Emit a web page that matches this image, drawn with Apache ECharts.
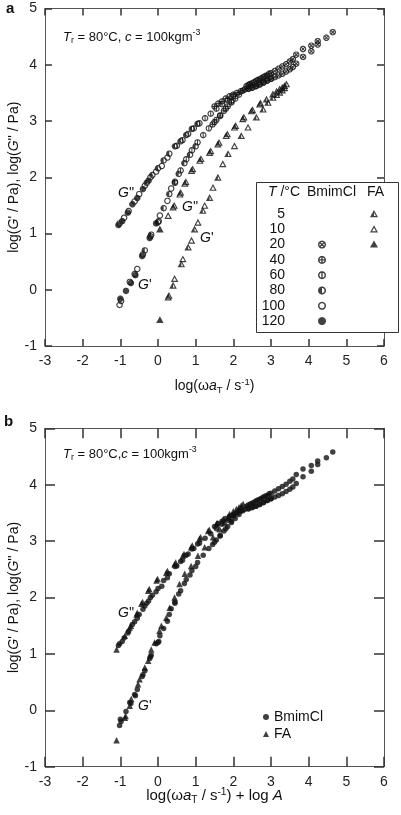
<!DOCTYPE html>
<html><head><meta charset="utf-8">
<script src="https://cdn.jsdelivr.net/npm/echarts@6/dist/echarts.min.js"></script>
<style>html,body{margin:0;padding:0;background:#fff}#c{width:401px;height:815px}</style>
</head><body><div id="c"></div>
<script>
// ---------- DATA ----------
// BmimCl, shifted curves [log(ω aT / s^-1), log(G / Pa)]
const bm120_Gp  = [[-1.00,-0.16],[-0.85,-0.02],[-0.72,0.12],[-0.60,0.26],[-0.42,0.60],[-0.22,0.92],[-0.05,1.18]];
const bm120_Gpp = [[-1.05,1.15],[-0.95,1.22],[-0.80,1.37],[-0.68,1.52],[-0.55,1.63],[-0.40,1.79],[-0.25,1.94]];
const bm100_Gp  = [[-1.02,-0.27],[-0.98,-0.20],[-0.75,0.14],[-0.62,0.28],[-0.55,0.37],[-0.40,0.63],[-0.20,0.95],[0.02,1.22],[0.05,1.32],[0.25,1.58],[0.35,1.80]];
const bm100_Gpp = [[-1.02,1.18],[-0.90,1.28],[-0.78,1.40],[-0.62,1.57],[-0.50,1.70],[-0.35,1.85],[-0.20,2.00],[-0.05,2.10],[0.10,2.20],[0.25,2.35]];
const bm80_Gp   = [[-0.35,0.70],[-0.18,0.98],[0.00,1.20],[0.15,1.45],[0.30,1.70],[0.45,1.92],[0.55,2.06],[0.70,2.25],[0.85,2.40],[1.00,2.55]];
const bm80_Gpp  = [[-0.30,1.90],[-0.15,2.04],[0.00,2.16],[0.15,2.30],[0.30,2.42],[0.45,2.55],[0.60,2.64],[0.75,2.75],[0.90,2.86],[1.05,2.95]];
const bm60_Gp   = [[0.45,1.90],[0.60,2.12],[0.75,2.32],[0.90,2.48],[1.05,2.62],[1.20,2.75],[1.35,2.87],[1.50,2.98],[1.65,3.10],[1.80,3.22],[1.95,3.35]];
const bm60_Gpp  = [[0.50,2.56],[0.65,2.66],[0.80,2.77],[0.95,2.87],[1.10,2.96],[1.25,3.05],[1.40,3.13],[1.55,3.22],[1.70,3.30],[1.85,3.37],[2.00,3.44]];
const bm40_Gp   = [[1.45,2.94],[1.55,3.02],[1.65,3.09],[1.75,3.18],[1.85,3.26],[1.95,3.33],[2.05,3.40],[2.15,3.47],[2.25,3.54],[2.35,3.62],[2.45,3.66],[2.55,3.69],[2.65,3.73],[2.75,3.76],[2.85,3.80],[2.95,3.84]];
const bm40_Gpp  = [[1.50,3.26],[1.60,3.31],[1.70,3.35],[1.80,3.40],[1.90,3.44],[2.00,3.47],[2.10,3.50],[2.20,3.53],[2.30,3.56],[2.40,3.58],[2.50,3.60],[2.60,3.62],[2.70,3.65],[2.80,3.68],[2.90,3.72],[3.00,3.75]];
const bm20_Gp   = [[2.40,3.64],[2.50,3.67],[2.60,3.71],[2.70,3.74],[2.80,3.78],[2.90,3.81],[3.00,3.85],[3.10,3.89],[3.20,3.93],[3.30,3.97],[3.40,4.01],[3.50,4.06],[3.58,4.10],[3.67,4.18],[3.85,4.28],[4.07,4.34],[4.24,4.42],[4.47,4.48],[4.64,4.58]];
const bm20_Gpp  = [[2.40,3.57],[2.50,3.59],[2.60,3.62],[2.70,3.65],[2.80,3.69],[2.90,3.72],[3.00,3.75],[3.10,3.78],[3.20,3.81],[3.30,3.84],[3.40,3.88],[3.50,3.92],[3.58,3.96],[3.67,4.02],[3.85,4.14],[4.07,4.24],[4.24,4.36]];
// FA, panel a (unshifted by log A)
const fa20_Gp   = [[0.05,-0.53]];
const fa20_Gpp  = [[0.05,1.08]];
const fa10_Gp   = [[0.27,-0.13],[0.44,0.20],[0.66,0.55],[0.89,0.88],[1.06,1.20],[1.24,1.50],[1.46,1.82],[1.72,2.24],[2.03,2.56],[2.39,2.89]];
const fa10_Gpp  = [[0.27,1.32],[0.40,1.47],[0.58,1.70],[0.71,1.89],[0.89,2.12],[1.11,2.30],[1.37,2.44],[1.59,2.59],[1.81,2.74],[2.03,2.89],[2.25,3.04],[2.48,3.18],[2.70,3.30]];
const fa5_Gp    = [[0.29,-0.10],[0.40,0.08],[0.62,0.46],[0.80,0.76],[0.97,1.08],[1.19,1.41],[1.37,1.64],[1.59,2.00],[1.86,2.42],[2.21,2.74],[2.61,3.07],[2.79,3.21],[2.92,3.33],[3.05,3.42],[3.15,3.47],[3.23,3.51],[3.30,3.55],[3.36,3.59]];
const fa5_Gpp   = [[0.43,1.50],[0.60,1.73],[0.74,1.92],[0.92,2.15],[1.14,2.33],[1.40,2.47],[1.62,2.62],[1.84,2.77],[2.06,2.92],[2.28,3.07],[2.51,3.20],[2.72,3.32],[2.88,3.39],[3.05,3.48],[3.15,3.53],[3.23,3.57],[3.30,3.60],[3.36,3.63],[3.41,3.66]];
// horizontal shift of FA in panel b
const logA = -1.15;
// axis ticks
const xTicks = {min:-3, max:6, interval:1};
const yTicks = {min:-1, max:5, interval:1};
const bmTemps = ['20','40','60','80','100','120'];
const faTemps = ['5','10','20'];

// ---------- STYLE HELPERS ----------
const FONT = "'Liberation Sans', Arial, Helvetica, sans-serif";
const INK = '#111';
function poly(pts){ return 'M' + pts.map(p => p[0].toFixed(2) + ' ' + p[1].toFixed(2)).join(' L') + ' Z'; }
function circ(cx, cy, r, rev){ const n = 28, pts = []; for (let k = 0; k < n; k++){ const a = 2*Math.PI*k/n; pts.push([cx + r*Math.cos(a), cy + r*Math.sin(a)]); } if (rev) pts.reverse(); return poly(pts); }
function halfL(cx, cy, r){ const n = 14, pts = []; for (let k = 0; k <= n; k++){ const a = Math.PI/2 + Math.PI*k/n; pts.push([cx + r*Math.cos(a), cy + r*Math.sin(a)]); } return poly(pts); }
const ring = circ(10,10,10,false) + ' ' + circ(10,10,6.4,true);
const barV = poly([[8.3,1],[11.7,1],[11.7,19],[8.3,19]]);
const barH = poly([[1,8.3],[19,8.3],[19,11.7],[1,11.7]]);
const diag1 = poly([[4.7,2.3],[17.7,15.3],[15.3,17.7],[2.3,4.7]]);
const diag2 = poly([[15.3,2.3],[17.7,4.7],[4.7,17.7],[2.3,15.3]]);
const SYM_B = {
  '20':  'path://' + ring + ' ' + diag1 + ' ' + diag2,
  '40':  'path://' + ring + ' ' + barV + ' ' + barH,
  '60':  'path://' + ring + ' ' + barV,
  '80':  'path://' + ring + ' ' + halfL(10,10,6.4),
  '100': 'path://' + ring,
  '120': 'path://' + circ(10,10,10,false)
};
const triOut = poly([[10,0],[20,18],[0,18]]);
const triIn = poly([[10,6.18],[5.1,15.0],[14.9,15.0]]);
const SYM_F = {
  '5':  'path://' + triOut + ' ' + triIn + ' ' + poly([[10,6.18],[10,15.0],[5.1,15.0]]),
  '10': 'path://' + triOut + ' ' + triIn,
  '20': 'path://' + triOut
};
const bmData = {'20':[bm20_Gp,bm20_Gpp],'40':[bm40_Gp,bm40_Gpp],'60':[bm60_Gp,bm60_Gpp],'80':[bm80_Gp,bm80_Gpp],'100':[bm100_Gp,bm100_Gpp],'120':[bm120_Gp,bm120_Gpp]};
const faData = {'5':[fa5_Gp,fa5_Gpp],'10':[fa10_Gp,fa10_Gpp],'20':[fa20_Gp,fa20_Gpp]};

function mkRich(fs){
  return {
    i:   {fontStyle:'italic', fontSize:fs, fontFamily:FONT, color:INK},
    sub: {fontSize:fs*0.68, lineHeight:fs*0.85, verticalAlign:'bottom', fontFamily:FONT, color:INK},
    sup: {fontSize:fs*0.68, lineHeight:fs*0.85, verticalAlign:'top', fontFamily:FONT, color:INK}
  };
}

const series = [];
bmTemps.forEach(t => {
  series.push({type:'scatter', name:'B'+t, xAxisIndex:0, yAxisIndex:0, data: bmData[t][0].concat(bmData[t][1]),
    symbol: SYM_B[t], symbolSize: 6.5, itemStyle:{color:INK}, silent:true, z:3});
});
faTemps.forEach(t => {
  series.push({type:'scatter', name:'F'+t, xAxisIndex:0, yAxisIndex:0, data: faData[t][0].concat(faData[t][1]),
    symbol: SYM_F[t], symbolSize: [7.5,6.8], itemStyle:{color:INK}, silent:true, z:3});
});
let bmAll = [];
bmTemps.forEach(t => { bmAll = bmAll.concat(bmData[t][0], bmData[t][1]); });
let faAll = [];
faTemps.forEach(t => { faAll = faAll.concat(faData[t][0], faData[t][1]); });
series.push({type:'scatter', name:'BmimCl', xAxisIndex:2, yAxisIndex:2, data: bmAll, symbol:'circle', symbolSize:5.5, itemStyle:{color:INK}, silent:true});
series.push({type:'scatter', name:'FA', xAxisIndex:2, yAxisIndex:2, data: faAll.map(p => [p[0] + logA, p[1]]), symbol:'triangle', symbolSize:6.5, itemStyle:{color:INK}, silent:true});

function tick(len){ return {show:true, inside:true, length:len, lineStyle:{color:'#333', width:1.5}}; }
function xAx(grid, pos, name, fs, gap){
  return Object.assign({type:'value', gridIndex:grid, position:pos, min:xTicks.min, max:xTicks.max, interval:xTicks.interval,
    axisLine:{onZero:false},
    axisTick:tick(grid === 0 ? 7 : 10),
    axisLabel:{show: pos==='bottom', fontSize:14, color:'#222', fontFamily:FONT, margin:8},
    splitLine:{show:false}},
    name ? {name:name, nameLocation:'middle', nameGap:gap, nameMoveOverlap:false, nameTextStyle:{fontSize:fs, lineHeight:18, fontFamily:FONT, color:INK, rich:mkRich(fs)}} : {});
}
function yAx(grid, pos, name){
  return Object.assign({type:'value', gridIndex:grid, position:pos, min:yTicks.min, max:yTicks.max, interval:yTicks.interval,
    axisLine:{show:true, onZero:false},
    axisTick:tick(grid === 0 ? 7 : 10),
    axisLabel:{show: pos==='left', fontSize:14, color:'#222', fontFamily:FONT, margin:8},
    splitLine:{show:false}},
    name ? {name:name, nameLocation:'middle', nameGap:22, nameMoveOverlap:false, nameRotate:90, nameTextStyle:{fontSize:14, lineHeight:18, fontFamily:FONT, color:INK, rich:mkRich(14)}} : {});
}
const yName = "log({i|G}' / Pa), log({i|G}'' / Pa)";

function txt(x, y, text, opt){
  return {type:'text', x:x, y:y, z:10, style:Object.assign({text:text, fontSize:14, fontFamily:FONT, fill:INK, verticalAlign:'middle', align:'left'}, opt||{})};
}
const legRows = [214, 229.3, 244.6, 259.9, 275.2, 290.5, 305.8, 321.1];
const legNums = ['5','10','20','40','60','80','100','120'];

const graphics = [
  txt(6, 8.5, 'a', {fontSize:15, fontWeight:'bold'}),
  txt(4, 422, 'b', {fontSize:15, fontWeight:'bold'}),
  txt(63, 37, '{i|T}{sub|r} = 80°C, {i|c} = 100kgm{sup|-3}', {fontSize:13, lineHeight:17, rich:mkRich(13)}),
  txt(63, 454, '{i|T}{sub|r} = 80°C,{i|c} = 100kgm{sup|-3}', {fontSize:13, lineHeight:17, rich:mkRich(13)}),
  txt(118, 193, "{i|G}''", {rich:mkRich(14)}),
  txt(182, 207, "{i|G}''", {rich:mkRich(14)}),
  txt(200, 238, "{i|G}'", {rich:mkRich(14)}),
  txt(138, 285, "{i|G}'", {rich:mkRich(14)}),
  txt(118, 613, "{i|G}''", {rich:mkRich(14)}),
  txt(138, 706, "{i|G}'", {rich:mkRich(14)}),
  {type:'rect', z:5, shape:{x:256.5, y:182.5, width:142, height:150}, style:{fill:'#fff', stroke:'#333', lineWidth:1}},
  txt(268, 192, '{i|T} /°C', {rich:mkRich(14)}),
  txt(307, 192, 'BmimCl'),
  txt(367, 192, 'FA')
];
legRows.forEach((y, k) => graphics.push(txt(285, y, legNums[k], {align:'right'})));

const chart = echarts.init(document.getElementById('c'), null, {renderer:'canvas'});
chart.setOption({
  animation:false,
  backgroundColor:'#fff',
  textStyle:{fontFamily:FONT},
  grid:[{left:45, top:8.5, width:339, height:337.5, outerBoundsMode:'none'},
        {left:45, top:428.3, width:339, height:338.4, outerBoundsMode:'none'}],
  xAxis:[xAx(0,'bottom','log(ω{i|a}{sub|T} / s{sup|-1})', 14, 31), xAx(0,'top'),
         xAx(1,'bottom','log(ω{i|a}{sub|T} / s{sup|-1}) + log {i|A}', 15, 20), xAx(1,'top')],
  yAxis:[yAx(0,'left',yName), yAx(0,'right'), yAx(1,'left',yName), yAx(1,'right')],
  legend:[
    {z:20, padding:0, selectedMode:false, orient:'vertical', left:318, top:240.6, itemWidth:8, itemHeight:8, itemGap:7.3,
     formatter:() => '', textStyle:{fontSize:8, lineHeight:8},
     data: bmTemps.map(t => ({name:'B'+t, icon:SYM_B[t]}))},
    {z:20, padding:0, selectedMode:false, orient:'vertical', left:370, top:210, itemWidth:8, itemHeight:7.3, itemGap:8,
     formatter:() => '', textStyle:{fontSize:8, lineHeight:7.3},
     data: faTemps.map(t => ({name:'F'+t, icon:SYM_F[t]}))},
    {z:20, padding:0, selectedMode:false, orient:'vertical', left:263, top:709.5, itemWidth:6, itemHeight:6, itemGap:2,
     textStyle:{fontSize:14, lineHeight:15, color:INK, fontFamily:FONT},
     data:[{name:'BmimCl', icon:'circle'}, {name:'FA', icon:'triangle'}]}
  ],
  graphic: graphics,
  series: series
});
</script></body></html>
